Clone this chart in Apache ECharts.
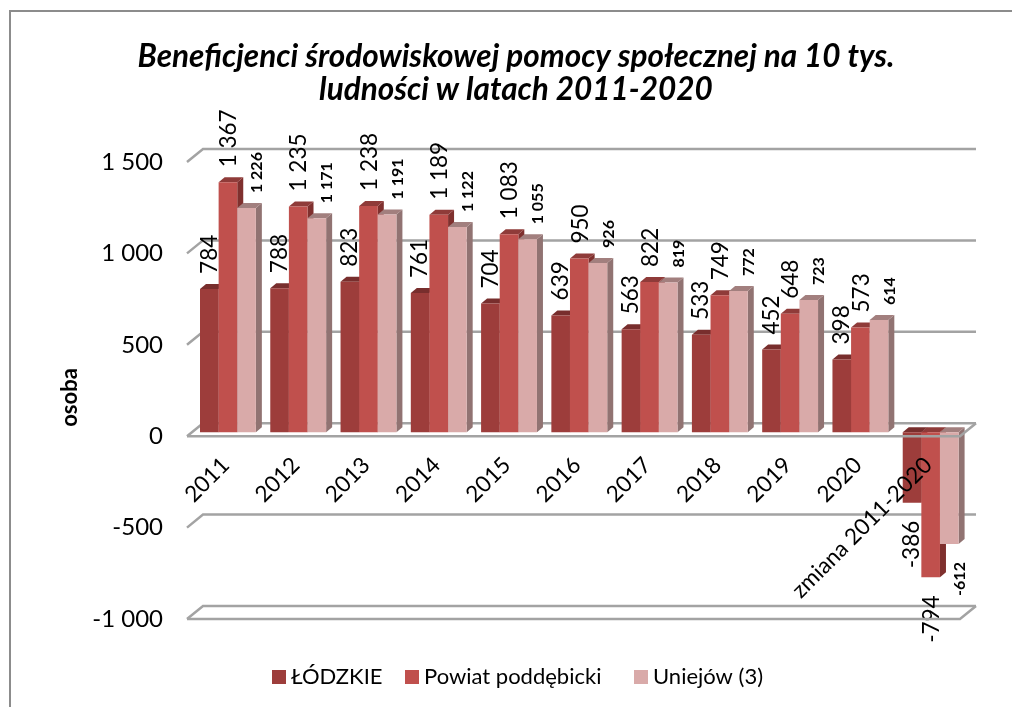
<!DOCTYPE html>
<html>
<head>
<meta charset="utf-8">
<style>
  html, body { margin: 0; padding: 0; background: #fff; }
  #chart { width: 1012px; height: 707px; }
</style>
<script src="https://cdn.jsdelivr.net/npm/echarts@6/dist/echarts.min.js"></script>
</head>
<body>
<div id="chart"></div>
<script>
const categories = ["2011", "2012", "2013", "2014", "2015", "2016", "2017", "2018", "2019", "2020", "zmiana 2011-2020"];
const lodzkie = [784, 788, 823, 761, 704, 639, 563, 533, 452, 398, -386];
const powiat = [1367, 1235, 1238, 1189, 1083, 950, 822, 749, 648, 573, -794];
const uniejow = [1226, 1171, 1191, 1122, 1055, 926, 819, 772, 723, 614, -612];
const yTicks = [-1000, -500, 0, 500, 1000, 1500];
const seriesNames = ["ŁÓDZKIE", "Powiat poddębicki", "Uniejów (3)"];
const legendLeft = [267, 400, 629];

const fontName = "Lato";
const depthX = 6;
const depthY = 5;
const backX = 16;
const backY = 13;

function fmt(value) {
  const text = String(Math.abs(value)).replace(/\B(?=(\d{3})+$)/g, " ");
  return value < 0 ? "-" + text : text;
}

function bar_series(name, values, slot, colors, labelStyle) {
  return {
    name: name,
    type: "custom",
    z: 5,
    itemStyle: { color: colors.face },
    data: values.map((v, i) => [i, v]),
    encode: { x: 0, y: 1 },
    renderItem: function (params, api) {
      const idx = api.value(0);
      const val = api.value(1);
      const step = api.size([1, 0])[0];
      const w = step * 0.265;
      const top = api.coord([idx, val]);
      const base = api.coord([idx, 0]);
      // bars stand a little behind the front edge of the floor
      const x0 = base[0] - step / 2 + 13 + slot * w;
      const x1 = x0 + w;
      const yBase = base[1] - 4;
      const yVal = top[1] - 4;
      const yTop = Math.min(yBase, yVal);
      const yBot = Math.max(yBase, yVal);
      const labelX = (x0 + x1) / 2 + labelStyle.shift;
      const labelY = val >= 0 ? yVal - 15 : yVal + 18;
      return {
        type: "group",
        children: [
          {
            type: "polygon",
            shape: { points: [[x1, yTop], [x1 + depthX, yTop - depthY], [x1 + depthX, yBot - depthY], [x1, yBot]] },
            style: { fill: colors.side },
          },
          {
            type: "polygon",
            shape: { points: [[x0, yTop], [x0 + depthX, yTop - depthY], [x1 + depthX, yTop - depthY], [x1, yTop]] },
            style: { fill: colors.top },
          },
          {
            type: "rect",
            shape: { x: x0, y: yTop, width: w, height: yBot - yTop },
            style: { fill: colors.face },
          },
          {
            type: "text",
            x: labelX,
            y: labelY,
            rotation: Math.PI / 2,
            z2: 10,
            style: {
              text: fmt(val),
              font: labelStyle.font,
              fill: "#000",
              align: val >= 0 ? "left" : "right",
              verticalAlign: "middle",
            },
          },
        ],
      };
    },
  };
}

// back wall lines with their slanted ends
function wall_series() {
  return {
    type: "custom",
    silent: true,
    z: 1,
    data: yTicks.map((t) => [0, t]),
    encode: { x: 0, y: 1 },
    renderItem: function (params, api) {
      const sys = params.coordSys;
      const y = api.coord([0, api.value(1)])[1];
      return {
        type: "polyline",
        shape: { points: [[sys.x, y], [sys.x + backX, y - backY], [sys.x + sys.width + backX, y - backY]] },
        style: { stroke: "#a3a3a3", lineWidth: 2.5, fill: null },
      };
    },
  };
}

// front edges of the floor and of the bottom plane, these go over the bars
function front_series() {
  return {
    type: "custom",
    silent: true,
    z: 8,
    data: [[0, 0], [0, -1000]],
    encode: { x: 0, y: 1 },
    renderItem: function (params, api) {
      const sys = params.coordSys;
      const y = api.coord([0, api.value(1)])[1];
      return {
        type: "polyline",
        shape: { points: [[sys.x, y], [sys.x + sys.width, y], [sys.x + sys.width + backX, y - backY]] },
        style: { stroke: "#a3a3a3", lineWidth: 2.5, fill: null },
      };
    },
  };
}

const chart = echarts.init(document.getElementById("chart"));
chart.setOption({
  animation: false,
  backgroundColor: "#fff",
  textStyle: { fontFamily: fontName },
  title: {
    text: "Beneficjenci środowiskowej pomocy społecznej na 10 tys.\nludności w latach 2011-2020",
    left: 511,
    top: 35,
    textAlign: "center",
    textStyle: { fontFamily: fontName, fontSize: 31.5, fontWeight: "bold", fontStyle: "italic", color: "#000", lineHeight: 33 },
  },
  legend: seriesNames.map((name, i) => ({
    left: legendLeft[i],
    top: 661,
    icon: "rect",
    itemWidth: 14,
    itemHeight: 14,
    textStyle: { fontFamily: fontName, fontSize: 22, color: "#000" },
    data: [name],
  })),
  grid: { left: 187, right: 52, top: 162, bottom: 88, outerBoundsMode: "none" },
  xAxis: {
    type: "category",
    data: categories,
    z: 9,
    offset: -183, // labels hang under the zero floor
    axisLine: { show: false, onZero: false },
    axisTick: { show: false },
    axisLabel: { rotate: 45, fontSize: 22.5, color: "#000", margin: 29, padding: [0, -5, 0, 0], interval: 0, fontFamily: fontName },
  },
  yAxis: {
    type: "value",
    min: -1000,
    max: 1500,
    interval: 500,
    splitLine: { show: false },
    axisLine: { show: false },
    axisTick: { show: false },
    axisLabel: { fontSize: 24, color: "#000", margin: 24, padding: [4, 0, 0, 0], formatter: fmt, fontFamily: fontName },
    name: "osoba",
    nameLocation: "middle",
    nameRotate: 90,
    nameGap: 106,
    nameTextStyle: { fontFamily: fontName, fontSize: 22, fontWeight: "bold", color: "#000", padding: [0, 0, 0, -14] },
  },
  series: [
    wall_series(),
    bar_series(seriesNames[0], lodzkie, 0, { face: "#9d3d3b", top: "#782e2d", side: "#752d2c" }, { font: "22.5px Lato", shift: 0 }),
    bar_series(seriesNames[1], powiat, 1, { face: "#c0504d", top: "#8f3b39", side: "#7f302e" }, { font: "22.5px Lato", shift: 1 }),
    bar_series(seriesNames[2], uniejow, 2, { face: "#d9aaa9", top: "#a27f7e", side: "#917372" }, { font: "bold 16px Lato", shift: 10.5 }),
    front_series(),
  ],
  graphic: [
    {
      type: "polyline",
      silent: true,
      shape: { points: [[10, 707], [10, 11], [1012, 11]] },
      style: { stroke: "#8c8c8c", lineWidth: 2, fill: null },
    },
  ],
});
</script>
</body>
</html>
